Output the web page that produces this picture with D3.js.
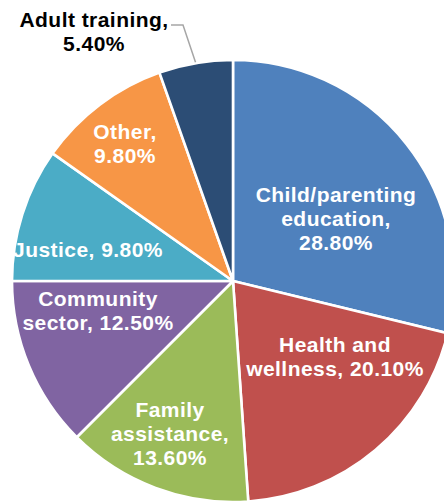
<!DOCTYPE html>
<html>
<head>
<meta charset="utf-8">
<script src="https://cdn.jsdelivr.net/npm/d3@7"></script>
<style>
  html, body { margin: 0; padding: 0; background: #fff; overflow: hidden; }
  svg { display: block; }
</style>
</head>
<body>
<svg id="chart" width="444" height="501"></svg>
<script>
// ---- data ----
const categories = ["Child/parenting education", "Health and wellness", "Family assistance",
                    "Community sector", "Justice", "Other", "Adult training"];
const values = [28.8, 20.1, 13.6, 12.5, 9.8, 9.8, 5.4];
const valueLabels = ["28.80%", "20.10%", "13.60%", "12.50%", "9.80%", "9.80%", "5.40%"];
const labelLines = [
  ["Child/parenting", "education,", "28.80%"],
  ["Health and", "wellness, 20.10%"],
  ["Family", "assistance,", "13.60%"],
  ["Community", "sector, 12.50%"],
  ["Justice, 9.80%"],
  ["Other,", "9.80%"],
  ["Adult training,", "5.40%"]
];
const colors = ["#4F81BD", "#C0504D", "#9BBB59", "#8064A2", "#4BACC6", "#F79646", "#2C4D75"];

// ---- layout ----
const cx = 233, cy = 281, radius = 221;
// label anchor (center x, first baseline y) relative to pie center
const labelOffsets = [[103, -79], [102, 71], [-63, 136], [-135, 25], [-145, -24], [-108, -142], [-139, -254]];
const labelFill = ["#fff", "#fff", "#fff", "#fff", "#fff", "#fff", "#000"];
const lineHeight = 24;

const svg = d3.select("#chart");
const g = svg.append("g").attr("transform", `translate(${cx},${cy})`);

const pie = d3.pie().sort(null).value(d => d)(values);
const arc = d3.arc().innerRadius(0).outerRadius(radius);

g.selectAll("path.slice")
  .data(pie)
  .join("path")
  .attr("class", "slice")
  .attr("d", arc)
  .attr("fill", (d, i) => colors[i])
  .attr("stroke", "#fff")
  .attr("stroke-width", 2.6)
  .attr("stroke-linejoin", "round");

// leader line for the outside label (Adult training)
const adult = pie[6];
const midA = (adult.startAngle + adult.endAngle) / 2;
const edgePt = [Math.sin(midA) * (radius + 1), -Math.cos(midA) * (radius + 1)];
const lo = labelOffsets[6];
g.append("polyline")
  .attr("points", [[lo[0] + 77, lo[1] - 2], [lo[0] + 89, lo[1] - 2], edgePt].map(p => p.join(",")).join(" "))
  .attr("fill", "none")
  .attr("stroke", "#A6A6A6")
  .attr("stroke-width", 1.5);

const labels = g.selectAll("text.lbl")
  .data(labelLines)
  .join("text")
  .attr("class", "lbl")
  .attr("text-anchor", "middle")
  .attr("font-family", "'Liberation Sans', Arial, sans-serif")
  .attr("font-weight", "bold")
  .attr("font-size", 21)
  .attr("letter-spacing", 0.45)
  .attr("fill", (d, i) => labelFill[i]);

labels.each(function(lines, i) {
  const t = d3.select(this);
  lines.forEach((ln, j) => {
    t.append("tspan")
      .attr("x", labelOffsets[i][0])
      .attr("y", labelOffsets[i][1] + j * lineHeight)
      .text(ln);
  });
});
</script>
</body>
</html>
